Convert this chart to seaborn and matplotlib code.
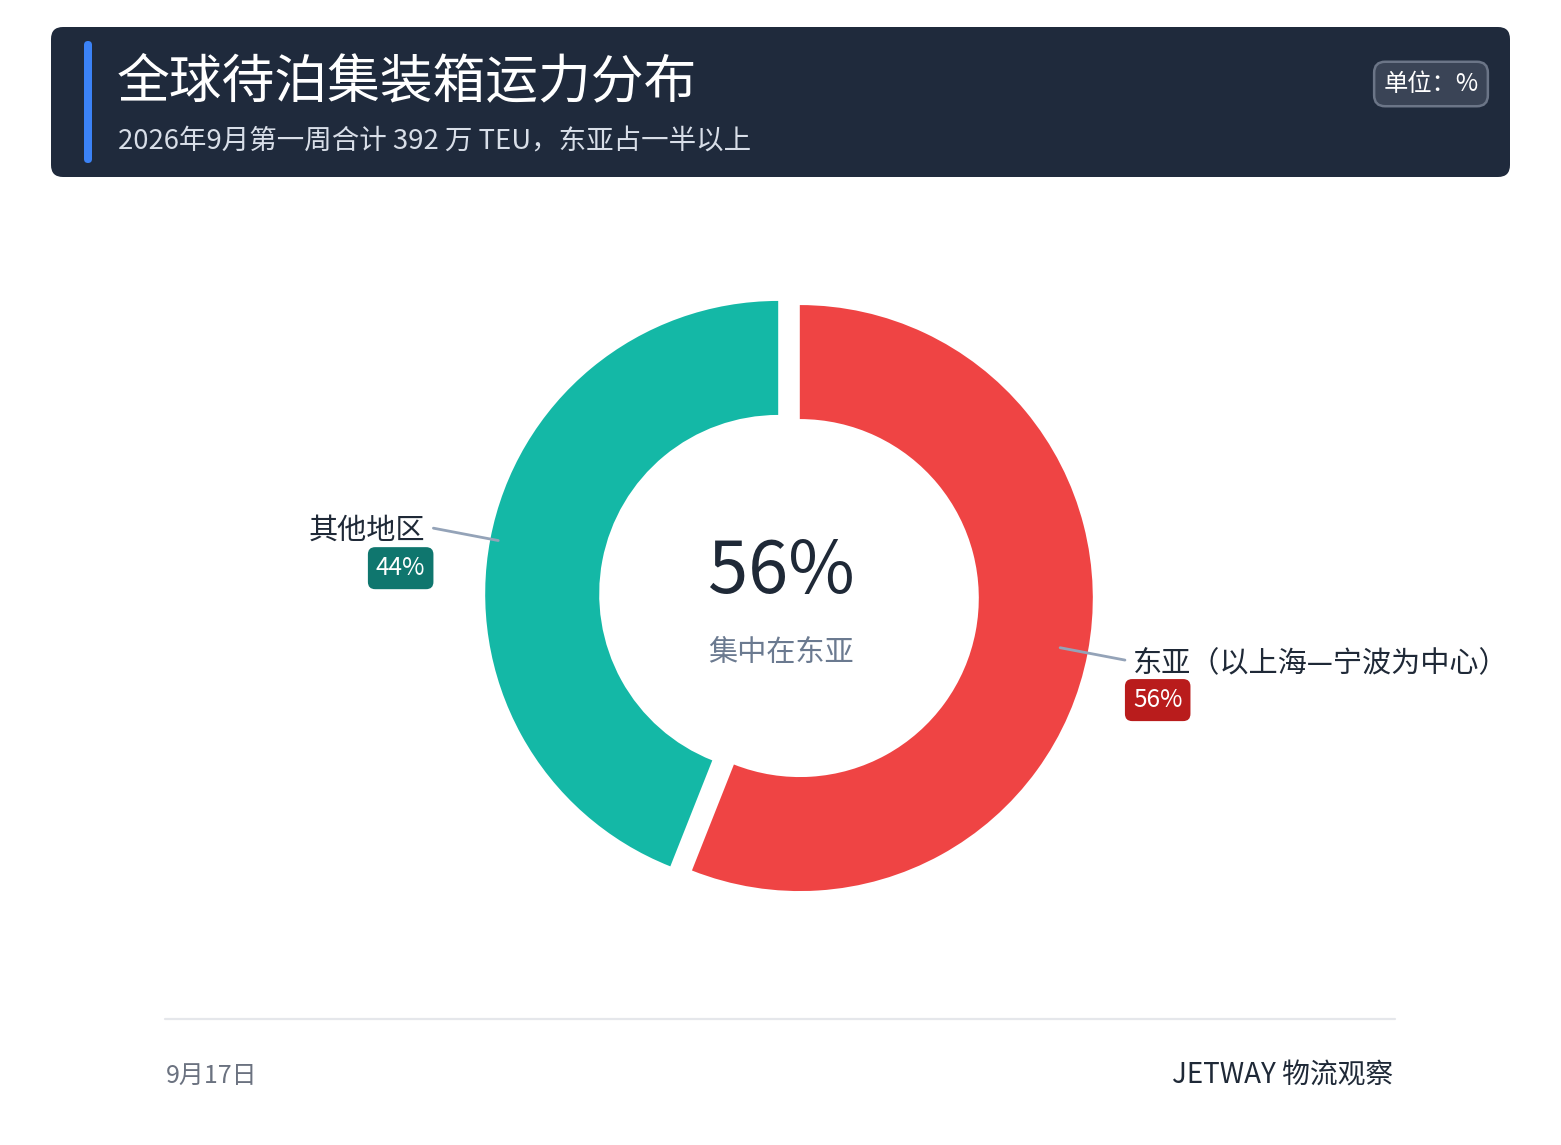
"Donut chart: global container capacity waiting at berth, by region"

import numpy as np
import seaborn as sns
import matplotlib.pyplot as plt
from matplotlib.patches import FancyBboxPatch

# data
regions = ["东亚（以上海—宁波为中心）", "其他地区"]
shares = [56, 44]
slice_colors = ["#ef4444", "#14b8a6"]
badge_colors = ["#b91c1c", "#0f766e"]

title = "全球待泊集装箱运力分布"
subtitle = "2026年9月第一周合计 392 万 TEU，东亚占一半以上"
unit_label = "单位：%"
center_note = "集中在东亚"
date_label = "9月17日"
source_label = "JETWAY 物流观察"

sns.set_theme(style="white")
plt.rcParams["font.family"] = ["Noto Sans CJK SC", "DejaVu Sans"]

W, H = 1561, 1145
fig = plt.figure(figsize=(W / 100, H / 100), dpi=100)
fig.patch.set_facecolor("white")

# background axes in pixel coordinates (y down)
bg = fig.add_axes([0, 0, 1, 1])
bg.set_xlim(0, W)
bg.set_ylim(H, 0)
bg.axis("off")

# header band
bg.add_patch(FancyBboxPatch((51, 27), 1459, 150, boxstyle="round,pad=0,rounding_size=12",
                            fc="#1f2a3c", ec="none"))
bg.add_patch(FancyBboxPatch((84, 41), 8, 122, boxstyle="round,pad=0,rounding_size=4",
                            fc="#3b82f6", ec="none"))
bg.text(117, 82, title, color="white", fontsize=38, va="center", ha="left")
bg.text(118, 142, subtitle, color="#d8dee8", fontsize=19.8, va="center", ha="left")
bg.text(1431, 84, unit_label, color="white", fontsize=17.5, va="center", ha="center",
        bbox=dict(boxstyle="round,pad=0.38,rounding_size=0.45", fc="#3a4456", ec="#6b7587", lw=1.8))

# footer
bg.plot([165, 1395], [1019, 1019], color="#e5e7eb", lw=1.6)
bg.text(166, 1076, date_label, color="#6b7280", fontsize=18, va="center", ha="left")
bg.text(1393, 1076, source_label, color="#1f2937", fontsize=20, va="center", ha="right")

# donut, axes scaled so one data unit = one pixel
cx, cy, half = 789, 596, 360
ax = fig.add_axes([(cx - half) / W, (H - cy - half) / H, 2 * half / W, 2 * half / H])

R, ring, gap = 293, 114, 11
wedges, _ = ax.pie(shares, colors=slice_colors, startangle=90, counterclock=False,
                   radius=R, explode=[gap] * len(shares),
                   wedgeprops=dict(width=ring, edgecolor="none"))
ax.set_xlim(-half, half)
ax.set_ylim(-half, half)
ax.set_aspect("equal")
ax.axis("off")

ax.text(-8, 24, f"{shares[0]}%", color="#1f2937", fontsize=52, ha="center", va="center")
ax.text(-8, -57, center_note, color="#6b7a90", fontsize=21, ha="center", va="center")

for w, name, val, bc in zip(wedges, regions, shares, badge_colors):
    mid = np.deg2rad((w.theta1 + w.theta2) / 2)
    right = np.cos(mid) > 0
    r0, r1 = (276, 342) if right else (296, 362)
    x0, y0 = r0 * np.cos(mid), r0 * np.sin(mid)
    x1, y1 = r1 * np.cos(mid), r1 * np.sin(mid)
    ax.plot([x0, x1], [y0, y1], color="#94a3b8", lw=2, clip_on=False)
    sgn = 1 if right else -1
    ha = "left" if right else "right"
    ax.text(x1 + sgn * 8, y1 - 3, name, color="#1f2937", fontsize=21, ha=ha, va="center",
            clip_on=False)
    ax.text(x1 + sgn * 8, y1 - 40, f"{val}%", color="white", fontsize=17.5, ha=ha, va="center",
            clip_on=False,
            bbox=dict(boxstyle="round,pad=0.33,rounding_size=0.3", fc=bc, ec="none"))

fig.savefig("out.png", dpi=100, facecolor="white")
